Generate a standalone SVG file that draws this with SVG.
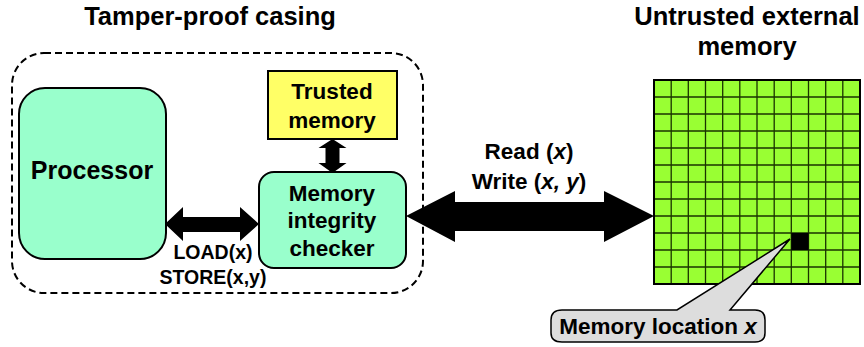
<svg xmlns="http://www.w3.org/2000/svg" width="864" height="347" viewBox="0 0 864 347">
<style>
text{font-family:"Liberation Sans",Arial,sans-serif;font-weight:bold;fill:#000;text-anchor:middle}
.box{stroke:#000;stroke-width:2}
.arrow{fill:#000;stroke:none}
.grid{stroke:#1a3300;stroke-width:1.3}
</style>
<rect width="864" height="347" fill="#fff"/>
<text x="210" y="25" font-size="25.5">Tamper-proof casing</text>
<text x="747" y="25" font-size="25.5">Untrusted external</text>
<text x="747" y="55" font-size="25.5">memory</text>

<g id="casing">
<rect x="12" y="53" width="411" height="240" rx="32" ry="32" fill="none" stroke="#000" stroke-width="2" stroke-dasharray="7,4"/>
</g>

<g id="processor">
<rect class="box" x="19" y="88" width="147" height="171" rx="26" ry="26" fill="#99FFCC"/>
<text x="92" y="179" font-size="25">Processor</text>
</g>

<g id="trusted-memory">
<rect class="box" x="268" y="71" width="129" height="68" fill="#FFFF66"/>
<text x="332" y="99" font-size="22.5">Trusted</text>
<text x="332" y="128" font-size="22.5">memory</text>
</g>

<g id="checker">
<rect class="box" x="259" y="172" width="147" height="96" rx="15" ry="15" fill="#99FFCC"/>
<text x="332" y="201" font-size="22.5">Memory</text>
<text x="332" y="228" font-size="22.5">integrity</text>
<text x="332" y="256" font-size="22.5">checker</text>
</g>

<g id="external-memory">
<rect x="654" y="80" width="206" height="204" fill="#99FF33" stroke="#000" stroke-width="2"/>
<g class="grid">
<path d="M671.2 80V284M688.3 80V284M705.5 80V284M722.7 80V284M739.8 80V284M757 80V284M774.2 80V284M791.3 80V284M808.5 80V284M825.7 80V284M842.8 80V284"/>
<path d="M654 97H860M654 114H860M654 131H860M654 148H860M654 165H860M654 182H860M654 199H860M654 216H860M654 233H860M654 250H860M654 267H860"/>
</g>
<rect x="791.3" y="233" width="17.2" height="17" fill="#000"/>
<rect x="654" y="80" width="206" height="204" fill="none" stroke="#000" stroke-width="2"/>
</g>

<g id="connectors">
<polygon class="arrow" points="332.5,139 346.5,148 339.5,148 339.5,163 346.5,163 332.5,173 318.5,163 325.5,163 325.5,148 318.5,148"/>
<polygon class="arrow" points="165,224 183,207 183,217 240,217 240,207 259,224 240,241 240,232 183,232 183,241"/>
<polygon class="arrow" points="406,216 455,191 455,202 604,202 604,191 654,216 604,242 604,231 455,231 455,242"/>
</g>

<text x="213" y="259" font-size="19.5">LOAD(x)</text>
<text x="213" y="284" font-size="19.5">STORE(x,y)</text>
<text x="529" y="159" font-size="22.5">Read (<tspan font-style="italic">x</tspan>)</text>
<text x="529" y="189" font-size="22.5">Write (<tspan font-style="italic">x, y</tspan>)</text>

<g id="callout">
<path d="M562 310 H677 L790 239 L730 310 H755 Q765 310 765 320 V333 Q765 342 755 342 H562 Q551 342 551 333 V320 Q551 310 562 310 Z" fill="#DDDDDD" stroke="#000" stroke-width="1.5"/>
<text x="658" y="334" font-size="22.5">Memory location <tspan font-style="italic">x</tspan></text>
</g>
</svg>
